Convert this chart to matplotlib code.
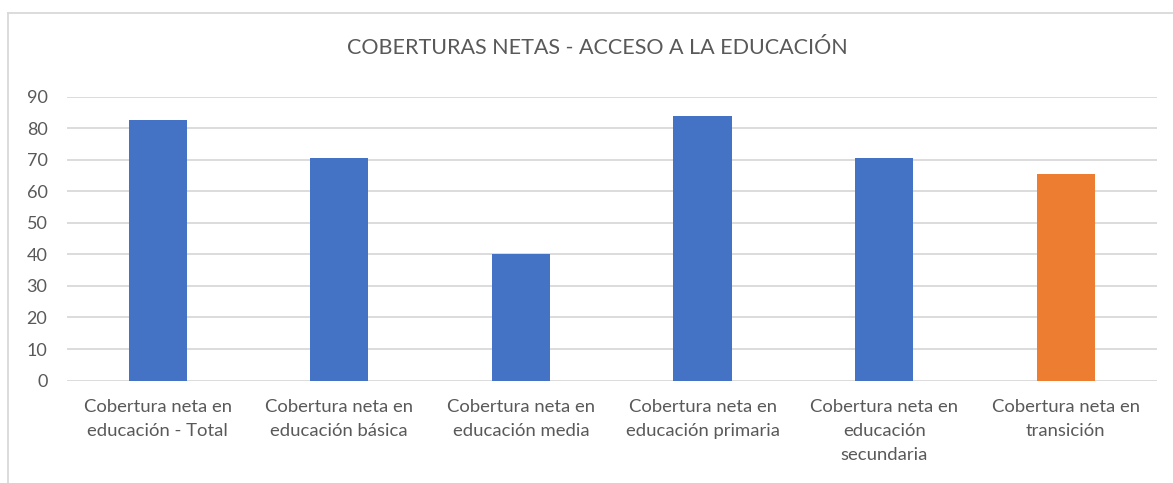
import matplotlib
matplotlib.use("Agg")
import matplotlib.pyplot as plt
from matplotlib.lines import Line2D

categories = [
    "Cobertura neta en\neducación - Total",
    "Cobertura neta en\neducación básica",
    "Cobertura neta en\neducación media",
    "Cobertura neta en\neducación primaria",
    "Cobertura neta en\neducación\nsecundaria",
    "Cobertura neta en\ntransición",
]
values = [82.5, 70.5, 40.2, 83.9, 70.7, 65.5]
colors = ["#4472C4", "#4472C4", "#4472C4", "#4472C4", "#4472C4", "#ED7D31"]
yticks = [0, 10, 20, 30, 40, 50, 60, 70, 80, 90]

plt.rcParams["font.family"] = ["Lato", "DejaVu Sans"]
text_color = "#595959"

fig = plt.figure(figsize=(11.73, 4.83), dpi=100)
ax = fig.add_axes([0.057, 0.212, 0.929, 0.588])

x = list(range(len(categories)))
ax.bar(x, values, width=0.32, color=colors, zorder=3)
ax.set_xlim(-0.5, len(categories) - 0.5)
ax.set_ylim(0, 90)
ax.set_yticks(yticks)
ax.set_xticks(x)
ax.set_xticklabels(categories, fontsize=13.3, color=text_color, linespacing=1.62)
ax.tick_params(axis="y", labelsize=13, labelcolor=text_color, length=0, pad=14)
ax.tick_params(axis="x", length=0, pad=13)
ax.grid(axis="y", color="#d9d9d9", linewidth=1.3, zorder=0)
for s in ax.spines.values():
    s.set_visible(False)

fig.text(0.509, 0.9, "COBERTURAS NETAS - ACCESO A LA EDUCACIÓN",
         ha="center", va="center", fontsize=15.5, color=text_color)

# chart frame (only top and left edges visible)
fig.add_artist(Line2D([8 / 1173, 8 / 1173], [0, 1 - 13 / 483], transform=fig.transFigure,
                      color="#d9d9d9", linewidth=1.3))
fig.add_artist(Line2D([8 / 1173, 1], [1 - 13 / 483, 1 - 13 / 483], transform=fig.transFigure,
                      color="#d9d9d9", linewidth=1.3))

fig.savefig("out.png", dpi=100)
